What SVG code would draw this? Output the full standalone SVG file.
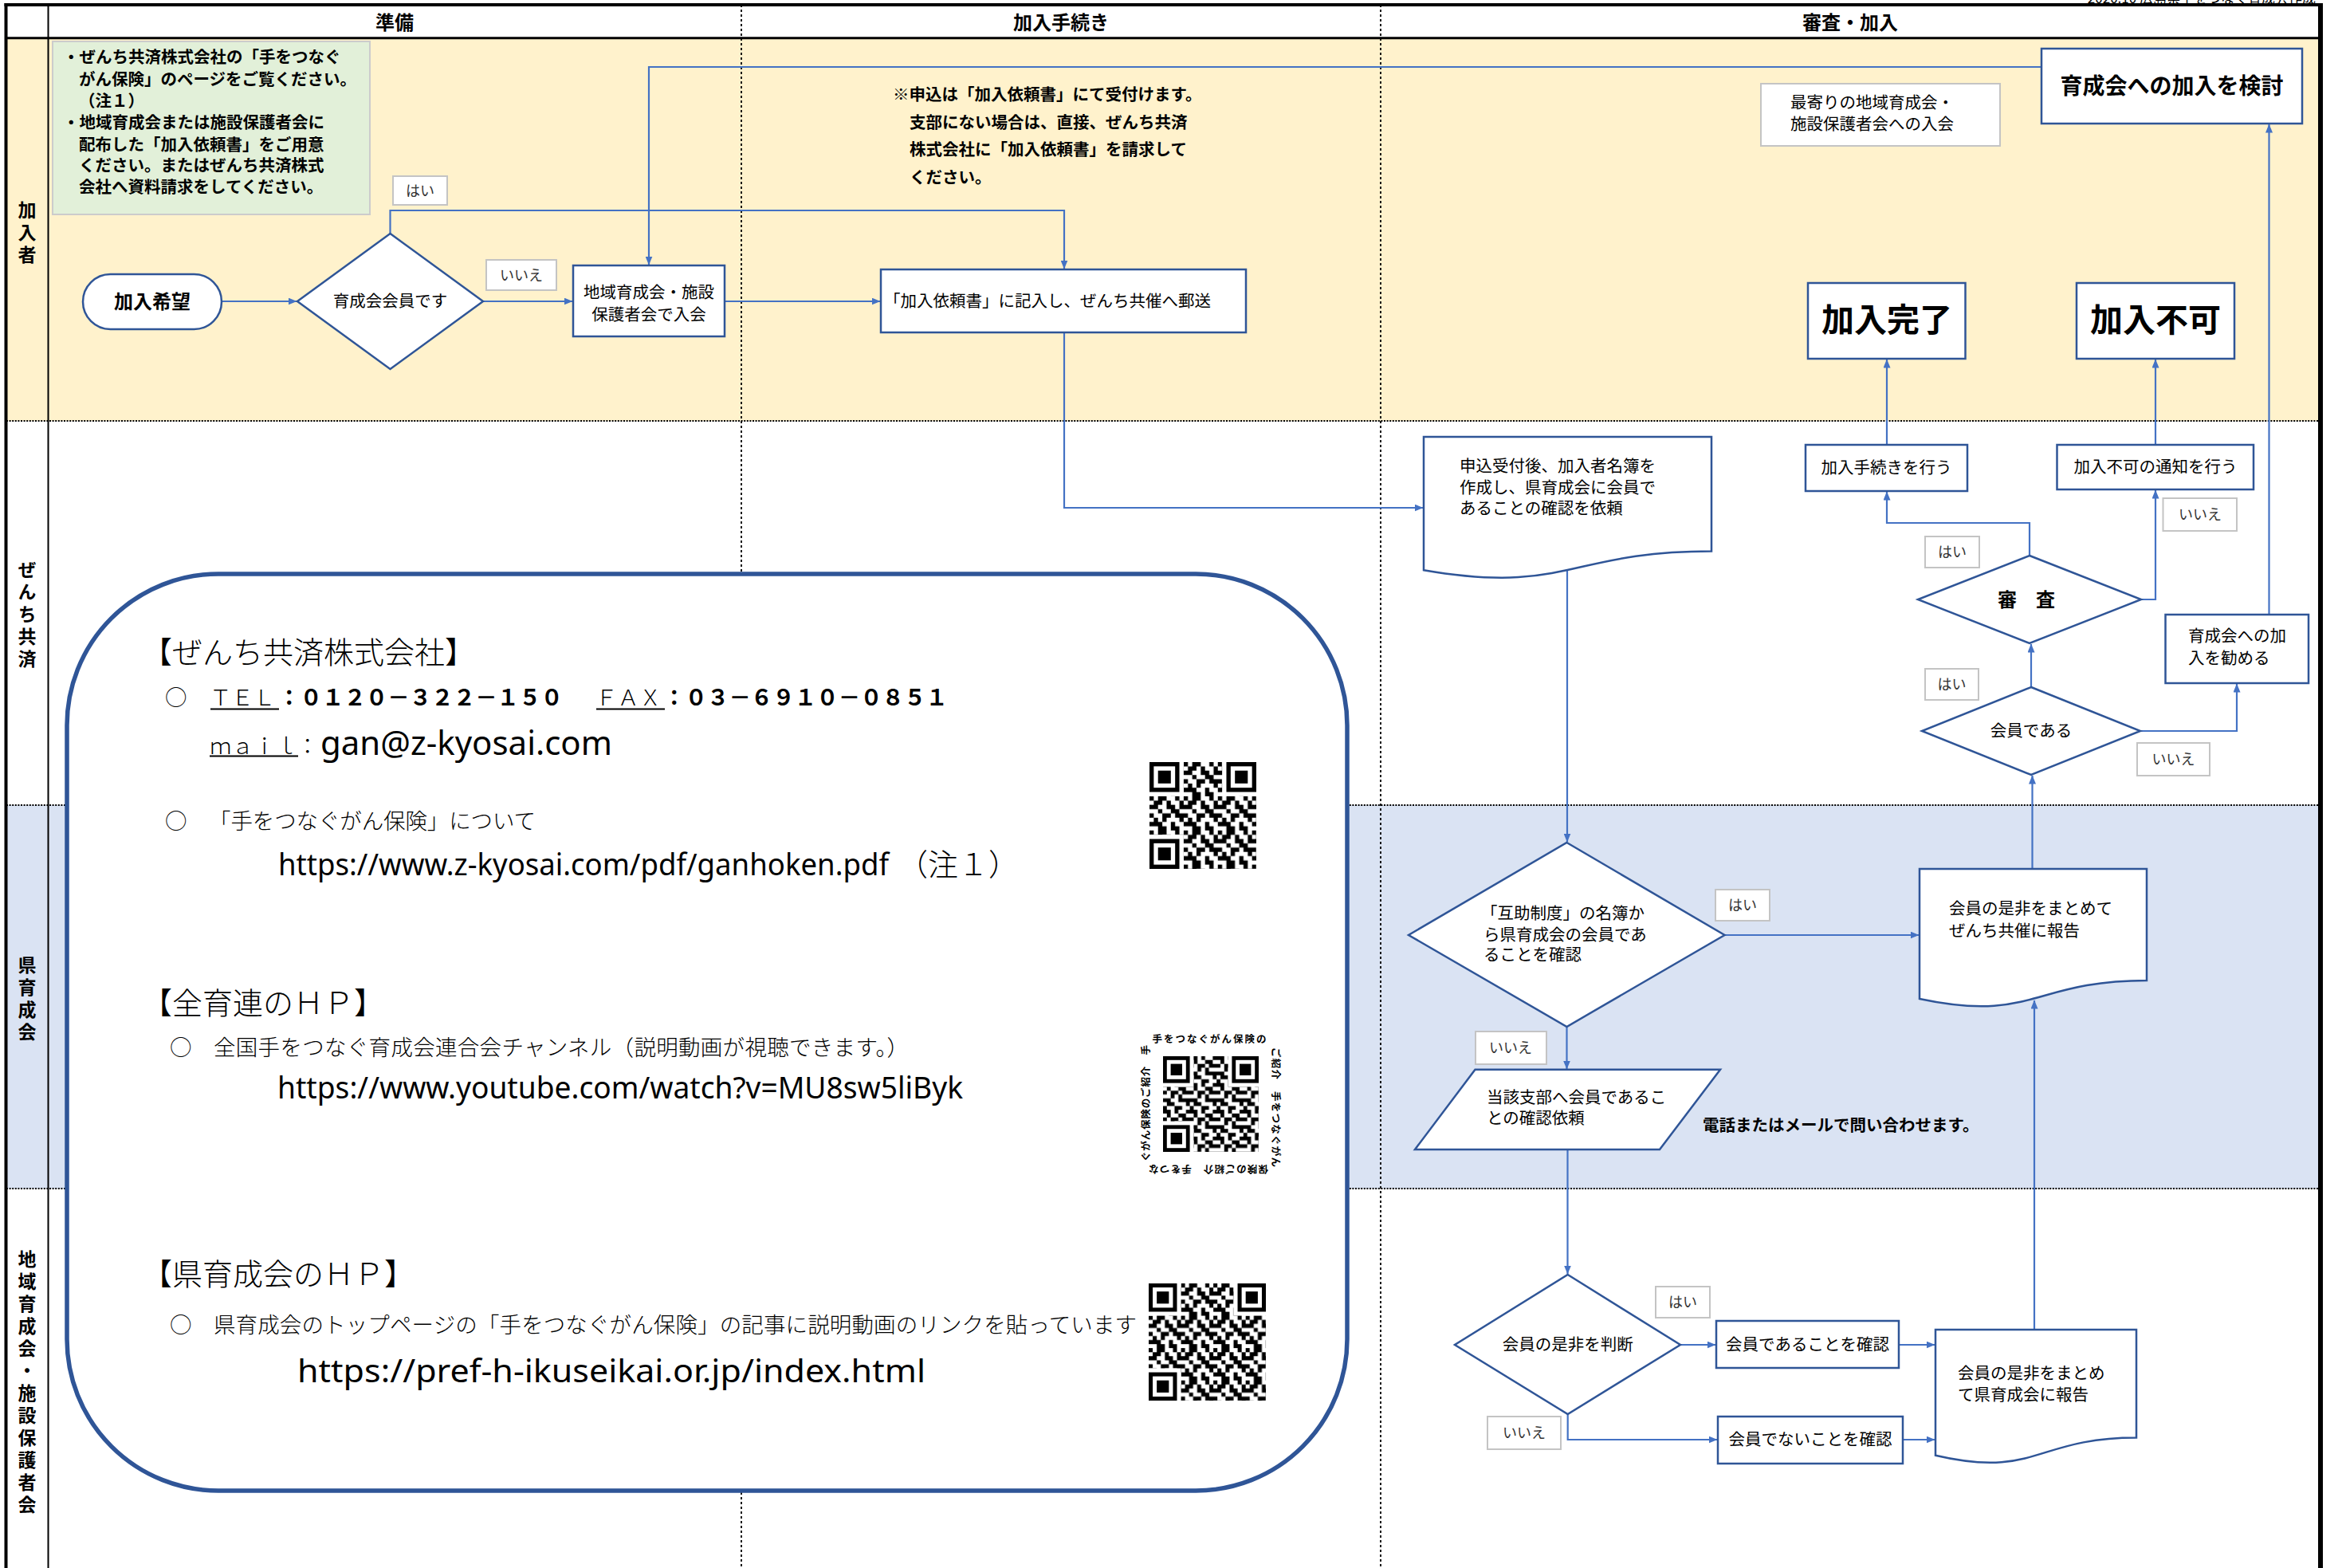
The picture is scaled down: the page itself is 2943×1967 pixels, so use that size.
<svg xmlns="http://www.w3.org/2000/svg" width="2943" height="1967" viewBox="0 0 2943 1967">
<style>
text{font-family:"Noto Sans CJK JP","Noto Sans CJK SC",sans-serif;fill:#000}
.t{font-size:20.5px}
.b{font-weight:bold}
.c{text-anchor:middle}
.e{text-anchor:end}
.lane{font-size:23px;font-weight:bold;writing-mode:vertical-rl;letter-spacing:5px;text-anchor:middle}
.hd{font-size:24px;font-weight:bold}
.lt{font-size:18px;fill:#333}
.node{fill:#fff;stroke:#2F5597;stroke-width:2.5}
.lbl{fill:#fff;stroke:#C4C4C4;stroke-width:2}
.conn{fill:none;stroke:#4472C4;stroke-width:2.2;marker-end:url(#ah)}
.dot{stroke:#000;fill:none}
.big{font-size:27.5px;font-weight:300}
.bigb{font-size:27.5px;font-weight:bold}
.hdl{font-size:38px;font-weight:300}
.url{font-family:"Noto Sans","Open Sans",sans-serif;font-size:38px}
.url42{font-family:"Noto Sans","Open Sans",sans-serif;font-size:42px}
.url40{font-family:"Noto Sans","Open Sans",sans-serif;font-size:40px}
.jp{font-family:"Noto Sans CJK JP","Noto Sans CJK SC",sans-serif;font-weight:300}
.qrt{font-size:12.5px;font-weight:bold}
</style>
<defs>
<marker id="ah" viewBox="0 0 11 9" refX="10.5" refY="4.5" markerWidth="11" markerHeight="9" markerUnits="userSpaceOnUse" orient="auto">
<path d="M0,0 L11,4.5 L0,9 z" fill="#4472C4"/>
</marker>
<pattern id="qa" width="8" height="8" patternUnits="userSpaceOnUse">
<path fill="#000" d="M0 0h1v1h-1z M2 0h2v1h-2z M6 0h1v1h-1z M1 1h2v1h-2z M4 1h1v1h-1z M7 1h1v1h-1z M0 2h2v1h-2z M4 2h2v1h-2z M7 2h1v1h-1z M2 3h1v1h-1z M5 3h2v1h-2z M0 4h1v1h-1z M3 4h2v1h-2z M6 4h2v1h-2z M1 5h1v1h-1z M3 5h1v1h-1z M7 5h1v1h-1z M0 6h3v1h-3z M5 6h1v1h-1z M2 7h2v1h-2z M5 7h2v1h-2z"/>
</pattern>
<pattern id="qb" width="7" height="7" patternUnits="userSpaceOnUse">
<path fill="#000" d="M0 0h2v1h-2z M3 0h1v1h-1z M6 0h1v1h-1z M1 1h1v1h-1z M4 1h2v1h-2z M0 2h1v1h-1z M2 2h2v1h-2z M5 2h2v1h-2z M2 3h1v1h-1z M4 3h1v1h-1z M0 4h2v1h-2z M4 4h3v1h-3z M1 5h2v1h-2z M6 5h1v1h-1z M0 6h1v1h-1z M3 6h2v1h-2z"/>
</pattern>
<g id="fnd">
<rect x="-1" y="-1" width="9" height="9" fill="#fff"/>
<rect width="7" height="7" fill="#000"/>
<rect x="1" y="1" width="5" height="5" fill="#fff"/>
<rect x="2" y="2" width="3" height="3" fill="#000"/>
</g>
</defs>

<g id="lanes">
<rect x="0" y="0" width="2943" height="1967" fill="#fff"/>
<rect x="8" y="48" width="2903" height="480" fill="#FFF2CC"/>
<rect x="8" y="1010" width="2903" height="481" fill="#DAE3F3"/>
<line class="dot" x1="8" y1="528" x2="2911" y2="528" stroke-width="2" stroke-dasharray="2,1.6"/>
<line class="dot" x1="8" y1="1010" x2="2911" y2="1010" stroke-width="2" stroke-dasharray="2,1.6"/>
<line class="dot" x1="8" y1="1491" x2="2911" y2="1491" stroke-width="2" stroke-dasharray="2,1.6"/>
<line class="dot" x1="930" y1="6" x2="930" y2="1967" stroke-width="1.8" stroke-dasharray="3,3"/>
<line class="dot" x1="1732" y1="6" x2="1732" y2="1967" stroke-width="1.8" stroke-dasharray="3,3"/>
<line x1="5.5" y1="6" x2="2914" y2="6" stroke="#000" stroke-width="4"/>
<line x1="7.5" y1="4" x2="7.5" y2="1967" stroke="#000" stroke-width="4"/>
<line x1="2911" y1="4" x2="2911" y2="1967" stroke="#000" stroke-width="6"/>
<line x1="8" y1="47.8" x2="2911" y2="47.8" stroke="#000" stroke-width="3"/>
<line x1="60.5" y1="6" x2="60.5" y2="1967" stroke="#000" stroke-width="2"/>
<text x="2905" y="3.5" class="e" font-size="17" fill="#333">2020.10 広島県手をつなぐ育成会作成</text>
<text x="495" y="37" class="hd c">準備</text>
<text x="1331" y="37" class="hd c">加入手続き</text>
<text x="2321" y="37" class="hd c">審査・加入</text>
<text class="lane" x="34" y="293.5">加入者</text>
<text class="lane" x="34" y="772.5">ぜんち共済</text>
<text class="lane" x="34" y="1254.5">県育成会</text>
<text class="lane" x="34" y="1735.5">地域育成会・施設保護者会</text>
</g>

<g id="note">
<rect x="66" y="52" width="398" height="217" fill="#E2F0D9" stroke="#CCCCCC" stroke-width="2"/>
<text class="t b"><tspan x="79" y="79">・ぜんち共済株式会社の「手をつなぐ</tspan><tspan x="99" y="107">がん保険」のページをご覧ください。</tspan><tspan x="99" y="133.5">（注１）</tspan><tspan x="79" y="160.5">・地域育成会または施設保護者会に</tspan><tspan x="99" y="188.5">配布した「加入依頼書」をご用意</tspan><tspan x="99" y="215">ください。またはぜんち共済株式</tspan><tspan x="99" y="241.5">会社へ資料請求をしてください。</tspan></text>
</g>

<g id="memo-apply">
<text class="t b"><tspan x="1120" y="126">※申込は「加入依頼書」にて受付けます。</tspan><tspan x="1141" y="161">支部にない場合は、直接、ぜんち共済</tspan><tspan x="1141" y="195">株式会社に「加入依頼書」を請求して</tspan><tspan x="1141" y="230">ください。</tspan></text>
</g>

<g id="memo-nearby">
<rect class="lbl" x="2209" y="105" width="300" height="78"/>
<text class="t"><tspan x="2246" y="135.5">最寄りの地域育成会・</tspan><tspan x="2246" y="162.5">施設保護者会への入会</tspan></text>
</g>

<g id="connectors">
<path class="conn" d="M278,378 H372"/>
<path class="conn" d="M606,378 H718"/>
<path class="conn" d="M489.5,293 V264 H1335 V337"/>
<path class="conn" d="M2561,84 H814 V332"/>
<path class="conn" d="M909,378 H1104"/>
<path class="conn" d="M1335,417 V637 H1785"/>
<path class="conn" d="M1966,714.6 V1056"/>
<path class="conn" d="M2163.5,1173 H2407"/>
<path class="conn" d="M1965.5,1288 V1341"/>
<path class="conn" d="M1966.5,1442 V1598"/>
<path class="conn" d="M2108,1687 H2152"/>
<path class="conn" d="M1966.7,1774 V1806 H2154"/>
<path class="conn" d="M2382,1687 H2427"/>
<path class="conn" d="M2387,1806 H2427"/>
<path class="conn" d="M2552,1668 V1255"/>
<path class="conn" d="M2549.5,1090 V973"/>
<path class="conn" d="M2548,862 V808"/>
<path class="conn" d="M2685,917 H2806 V858"/>
<path class="conn" d="M2546,697 V656 H2367 V617"/>
<path class="conn" d="M2686,752 H2704 V615"/>
<path class="conn" d="M2367,558 V451"/>
<path class="conn" d="M2704,558 V451"/>
<path class="conn" d="M2846.5,771 V156"/>
</g>

<g id="n-kibou">
<rect class="node" x="104" y="344" width="174" height="69" rx="34.5"/>
<text x="191" y="387" class="c b" font-size="24">加入希望</text>
</g>
<g id="n-kaiin">
<polygon class="node" points="489.5,293 606,378 489.5,463 373,378"/>
<text x="489.5" y="385" class="t c">育成会会員です</text>
</g>
<g id="n-chiiki">
<rect class="node" x="719" y="333" width="190" height="89"/>
<text class="t c"><tspan x="814" y="374">地域育成会・施設</tspan><tspan x="814" y="402">保護者会で入会</tspan></text>
</g>
<g id="n-irai">
<rect class="node" x="1105" y="338" width="458" height="79"/>
<text x="1109" y="385" class="t">「加入依頼書」に記入し、ぜんち共催へ郵送</text>
</g>
<g id="n-uketsuke">
<path class="node" d="M1786,548 H2147 V691.6 C1966.5,691.6 1966.5,746.2 1786,715.2 Z"/>
<text class="t"><tspan x="1831" y="592">申込受付後、加入者名簿を</tspan><tspan x="1831" y="619">作成し、県育成会に会員で</tspan><tspan x="1831" y="645">あることの確認を依頼</tspan></text>
</g>
<g id="n-gojo">
<polygon class="node" points="1965.5,1057 2163.5,1173 1965.5,1288 1767,1173"/>
<text class="t"><tspan x="1858" y="1153">「互助制度」の名簿か</tspan><tspan x="1861" y="1180">ら県育成会の会員であ</tspan><tspan x="1861" y="1205">ることを確認</tspan></text>
</g>
<g id="n-shibu">
<polygon class="node" points="1850.5,1341.7 2158,1341.7 2082,1442 1775,1442"/>
<text class="t"><tspan x="1865" y="1384">当該支部へ会員であるこ</tspan><tspan x="1865" y="1410">との確認依頼</tspan></text>
</g>
<g id="memo-tel">
<text x="2136" y="1419" class="t b">電話またはメールで問い合わせます。</text>
</g>
<g id="n-handan">
<polygon class="node" points="1966.7,1599 2108,1687 1966.7,1774 1825,1687"/>
<text x="1966.7" y="1694" class="t c">会員の是非を判断</text>
</g>
<g id="n-aru">
<rect class="node" x="2153" y="1657" width="229" height="59"/>
<text x="2267.5" y="1694" class="t c">会員であることを確認</text>
</g>
<g id="n-nai">
<rect class="node" x="2155" y="1777" width="232" height="59"/>
<text x="2271" y="1813" class="t c">会員でないことを確認</text>
</g>
<g id="n-houkoku-ken">
<path class="node" d="M2428,1668 H2680 V1803.5 C2554,1803.5 2554,1855.2 2428,1825.8 Z"/>
<text class="t"><tspan x="2456" y="1730">会員の是非をまとめ</tspan><tspan x="2456" y="1757">て県育成会に報告</tspan></text>
</g>
<g id="n-houkoku-zenchi">
<path class="node" d="M2408,1090 H2693 V1230 C2550.5,1230 2550.5,1283.3 2408,1253 Z"/>
<text class="t"><tspan x="2445" y="1147">会員の是非をまとめて</tspan><tspan x="2445" y="1175">ぜんち共催に報告</tspan></text>
</g>
<g id="n-kaiindearu">
<polygon class="node" points="2548,862 2685,917 2548,972 2411,917"/>
<text x="2548" y="924" class="t c">会員である</text>
</g>
<g id="n-shinsa">
<polygon class="node" points="2546,697 2686,752 2546,807 2406,752"/>
<text x="2542" y="760.5" class="c b" font-size="24">審　査</text>
</g>
<g id="n-tetsuzuki">
<rect class="node" x="2265" y="558" width="203" height="58"/>
<text x="2366.5" y="594" class="t c">加入手続きを行う</text>
</g>
<g id="n-fuka-tsuchi">
<rect class="node" x="2580.5" y="558" width="246.5" height="56"/>
<text x="2704" y="593" class="t c">加入不可の通知を行う</text>
</g>
<g id="n-susumeru">
<rect class="node" x="2716.5" y="771" width="179.5" height="86"/>
<text class="t"><tspan x="2745" y="805">育成会への加</tspan><tspan x="2745" y="833">入を勧める</tspan></text>
</g>
<g id="n-kanryou">
<rect class="node" x="2268" y="355" width="197.5" height="95"/>
<text x="2367" y="416" class="c b" font-size="41">加入完了</text>
</g>
<g id="n-fuka">
<rect class="node" x="2605" y="355" width="198" height="95"/>
<text x="2704" y="416" class="c b" font-size="41">加入不可</text>
</g>
<g id="n-kentou">
<rect class="node" x="2561" y="61" width="327" height="94"/>
<text x="2724.5" y="117.5" class="c b" font-size="28">育成会への加入を検討</text>
</g>

<g id="labels">
<rect class="lbl" x="493" y="221" width="68" height="36"/><text x="527" y="245.5" class="lt c">はい</text>
<rect class="lbl" x="610" y="326" width="88" height="38"/><text x="654" y="351.5" class="lt c">いいえ</text>
<rect class="lbl" x="2415" y="673" width="68" height="39"/><text x="2449" y="699" class="lt c">はい</text>
<rect class="lbl" x="2713.5" y="625" width="92.5" height="41"/><text x="2760" y="652" class="lt c">いいえ</text>
<rect class="lbl" x="2415" y="839" width="67" height="39"/><text x="2448.5" y="865" class="lt c">はい</text>
<rect class="lbl" x="2681" y="932" width="91" height="41"/><text x="2726.5" y="959" class="lt c">いいえ</text>
<rect class="lbl" x="2152" y="1116" width="68" height="39"/><text x="2186" y="1142" class="lt c">はい</text>
<rect class="lbl" x="1851" y="1294" width="89" height="41"/><text x="1895" y="1321" class="lt c">いいえ</text>
<rect class="lbl" x="2077" y="1614" width="68" height="39"/><text x="2111" y="1640" class="lt c">はい</text>
<rect class="lbl" x="1866" y="1777" width="92" height="41"/><text x="1912" y="1804" class="lt c">いいえ</text>
</g>

<g id="info">
<rect x="84" y="720" width="1606" height="1150" rx="190" ry="190" fill="#fff" stroke="#2F5597" stroke-width="5.5"/>
<text x="178" y="832" class="hdl">【ぜんち共済株式会社】</text>
<text x="207" y="885" class="big">○</text>
<text x="263" y="885" class="big">ＴＥＬ</text>
<line x1="264" y1="889.5" x2="350" y2="889.5" stroke="#000" stroke-width="2"/>
<text x="349" y="885" class="bigb" textLength="357">：０１２０－３２２－１５０</text>
<text x="747" y="885" class="big">ＦＡＸ</text>
<line x1="748" y1="889.5" x2="834" y2="889.5" stroke="#000" stroke-width="2"/>
<text x="832" y="885" class="bigb" textLength="357">：０３－６９１０－０８５１</text>
<text x="263" y="946" class="big">ｍａｉｌ</text>
<line x1="263" y1="948.5" x2="374" y2="948.5" stroke="#000" stroke-width="2"/>
<text x="372" y="946" class="big">：</text>
<text x="402" y="946.5" class="url42" textLength="366" lengthAdjust="spacingAndGlyphs">gan@z-kyosai.com</text>
<text x="207" y="1040" class="big">○</text>
<text x="262" y="1040" class="big" textLength="410">「手をつなぐがん保険」について</text>
<text y="1098" class="url"><tspan x="349" textLength="766" lengthAdjust="spacingAndGlyphs">https://www.z-kyosai.com/pdf/ganhoken.pdf</tspan><tspan x="1126" class="jp">（注１）</tspan></text>
<text x="178" y="1272" class="hdl">【全育連のＨＰ】</text>
<text x="213" y="1324" class="big">○</text>
<text x="268" y="1324" class="big" textLength="872">全国手をつなぐ育成会連合会チャンネル（説明動画が視聴できます。）</text>
<text x="348" y="1378" class="url" textLength="860" lengthAdjust="spacingAndGlyphs">https://www.youtube.com/watch?v=MU8sw5liByk</text>
<text x="178" y="1612" class="hdl">【県育成会のＨＰ】</text>
<text x="213" y="1672" class="big">○</text>
<text x="268" y="1672" class="big" textLength="1158">県育成会のトップページの「手をつなぐがん保険」の記事に説明動画のリンクを貼っています</text>
<text x="373" y="1734" class="url40" textLength="788" lengthAdjust="spacingAndGlyphs">https://pref-h-ikuseikai.or.jp/index.html</text>
</g>

<g id="qr1" transform="translate(1442,956) scale(5.36)">
<rect width="25" height="25" fill="url(#qa)"/>
<use href="#fnd"/><use href="#fnd" x="18"/><use href="#fnd" y="18"/>
</g>
<g id="qr2">
<g transform="translate(1459,1325) scale(4.8)">
<rect width="25" height="25" fill="url(#qb)"/>
<use href="#fnd"/><use href="#fnd" x="18"/><use href="#fnd" y="18"/>
</g>
<text x="1517" y="1308" class="qrt c" textLength="143">手をつなぐがん保険の</text>
<text transform="translate(1437.5,1384) rotate(-90)" y="4.5" class="qrt c" textLength="146">ぐがん保険のご紹介　手</text>
<text transform="translate(1600.5,1389) rotate(90)" y="4.5" class="qrt c" textLength="150">ご紹介　手をつなぐがん</text>
<text transform="translate(1516,1466) rotate(180)" y="4.5" class="qrt c" textLength="150">保険のご紹介　手をつな</text>
</g>
<g id="qr3" transform="translate(1441,1610) scale(5.07)">
<rect width="29" height="29" fill="url(#qa)"/>
<use href="#fnd"/><use href="#fnd" x="22"/><use href="#fnd" y="22"/>
</g>
</svg>
